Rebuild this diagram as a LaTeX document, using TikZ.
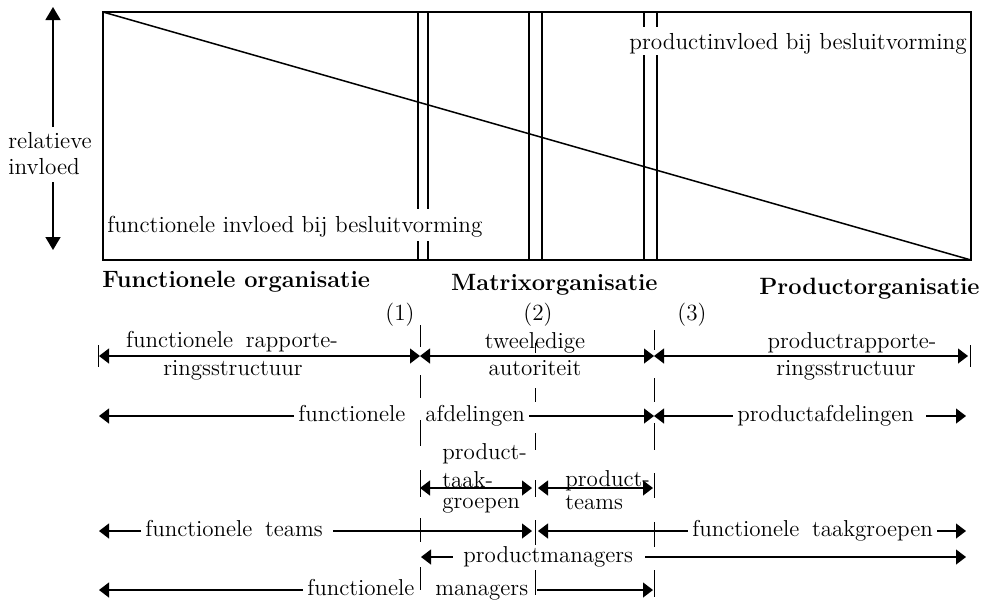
\documentclass[tikz,border=0pt]{standalone}
\usetikzlibrary{arrows.meta}
\begin{document}
\begin{tikzpicture}[x=0.5pt,y=-0.5pt,
  >={Triangle[length=5pt,width=7.5pt]},
  frame/.style={line width=0.75pt},
  guide/.style={line width=0.5pt},
  arr/.style={line width=0.55pt},
  lbl/.style={font=\fontsize{11.5}{13.5}\selectfont, inner xsep=2pt, inner ysep=0pt,
              text height=5pt, text depth=0pt},
  big/.style={font=\fontsize{11.6}{13}\selectfont, inner sep=0pt},
  head/.style={font=\fontsize{11.8}{14}\selectfont\bfseries, inner sep=0pt}]

\useasboundingbox (0,0) rectangle (981,601);

% ---------- influence chart ----------
\coordinate (tl) at (103,12);
\coordinate (br) at (971,260);
\draw[frame] (tl) rectangle (br);
\draw[frame] (tl) -- (br);

% transition bands
\foreach \x in {418,428}{
  \draw[frame] (\x,12) -- (\x,209);
  \draw[frame] (\x,241) -- (\x,260);
}
\foreach \x in {529,542}
  \draw[frame] (\x,12) -- (\x,260);
\foreach \x in {644,657}{
  \draw[frame] (\x,12) -- (\x,27);
  \draw[frame] (\x,55) -- (\x,260);
}

\node[big,anchor=west] (finv) at (107,227) {functionele invloed bij besluitvorming};
\node[big,anchor=east] (pinv) at (967,44) {productinvloed bij besluitvorming};

% vertical axis
\node[big,anchor=west,align=left] (rel) at (8,154) {relatieve\\invloed};
\coordinate (upT) at (53,7);
\coordinate (upS) at (53,127);
\coordinate (dnS) at (53,182);
\coordinate (dnT) at (53,250);
\draw[frame,-{Triangle[length=6.5pt,width=7.5pt]}] (upS) -- (upT);
\draw[frame,-{Triangle[length=6.5pt,width=7.5pt]}] (dnS) -- (dnT);

% organisation types
\node[head,anchor=west] (hF) at (102,282) {Functionele organisatie};
\node[head,anchor=east] (hM) at (658,285) {Matrixorganisatie};
\node[head,anchor=east] (hP) at (980,289) {Productorganisatie};

\node[big] (n1) at (400,315) {(1)};
\node[big] (n2) at (538,315) {(2)};
\node[big] (n3) at (692,315) {(3)};

% ---------- dividing guides ----------
\foreach \a/\b in {325/347,375/398,420/446,470/497,518/542,567/590}
  \draw[guide] (420,\a) -- (420,\b);
\foreach \a/\b in {343/353,388/402,433/450,480/497,520/545,570/595}
  \draw[guide] (535,\a) -- (535,\b);
\foreach \a/\b in {330/350,378/402,423/450,473/498,522/547,570/597}
  \draw[guide] (654,\a) -- (654,\b);

% ---------- reporting structure ----------
\coordinate (L1) at (99,356);
\coordinate (A1) at (420,356);
\coordinate (C1) at (654,356);
\coordinate (R1) at (968,356);
\draw[guide] (98,345) -- (98,367);
\draw[guide] (970,345) -- (970,367);
\draw[arr,<->] (L1) -- (A1);
\draw[arr,<->] (A1) -- (C1);
\draw[arr,<->] (C1) -- (R1);
\node[lbl] (fr1) at (232,342) {functionele\hspace{0.55em}rapporte-};
\node[lbl] (fr2) at (233,370) {ringsstructuur};
\node[lbl] (tw1) at (535,343) {tweeledige};
\node[lbl] (tw2) at (535,370) {autoriteit};
\node[lbl] (pr1) at (852,343) {productrapporte-};
\node[lbl] (pr2) at (846,370) {ringsstructuur};

% ---------- departments ----------
\coordinate (L2) at (99,416);
\coordinate (C2) at (654,416);
\coordinate (R2) at (966,416);
\node[lbl,anchor=west] (fa1) at (294,416) {functionele};
\node[lbl,anchor=west] (fa2) at (421,416) {afdelingen};
\node[lbl,anchor=west] (pa) at (733,416) {productafdelingen};
\draw[arr,->] (fa1.west) -- (L2);
\draw[arr,->] (fa2.east) -- (C2);
\draw[arr,<-] (C2) -- (pa.west);
\draw[arr,->] ([xshift=4pt]pa.east) -- (R2);

% ---------- task groups and teams ----------
\coordinate (A3) at (420,488);
\coordinate (B3l) at (532,488);
\coordinate (B3r) at (538,488);
\coordinate (C3) at (653,488);
\draw[arr,<->] (A3) -- (B3l);
\draw[arr,<->] (B3r) -- (C3);
\node[lbl,anchor=west] (pt1) at (438,454) {product-};
\node[lbl,anchor=west] (pt2) at (438,482) {taak-};
\node[lbl,anchor=west] (pt3) at (438,503) {groepen};
\node[lbl,anchor=west] (tm1) at (561,481) {product-};
\node[lbl,anchor=west] (tm2) at (561,504) {teams};

% ---------- teams ----------
\coordinate (L4) at (99,531);
\coordinate (B4l) at (532,531);
\coordinate (B4r) at (538,531);
\coordinate (R4) at (966,531);
\node[lbl,anchor=west] (ft) at (141,531) {functionele\hspace{0.55em}teams};
\node[lbl,anchor=west] (ftg) at (688,531) {functionele\hspace{0.55em}taakgroepen};
\draw[arr,->] (ft.west) -- (L4);
\draw[arr,->] ([xshift=3pt]ft.east) -- (B4l);
\draw[arr,<-] (B4r) -- (ftg.west);
\draw[arr,->] (ftg.east) -- (R4);

% ---------- managers ----------
\coordinate (A5) at (421,557);
\coordinate (R5) at (966,557);
\node[lbl,anchor=west] (pm) at (459,557) {productmanagers};
\draw[arr,<-] (A5) -- ([xshift=-3pt]pm.west);
\draw[arr,->] ([xshift=4pt]pm.east) -- (R5);

\coordinate (L6) at (99,590);
\coordinate (B6) at (537,590);
\coordinate (C6) at (653,590);
\node[lbl,anchor=west] (fm1) at (303,590) {functionele};
\node[lbl,anchor=west] (fm2) at (431,590) {managers};
\draw[arr,->] (fm1.west) -- (L6);
\draw[arr,->] (B6) -- (C6);

\end{tikzpicture}
\end{document}
